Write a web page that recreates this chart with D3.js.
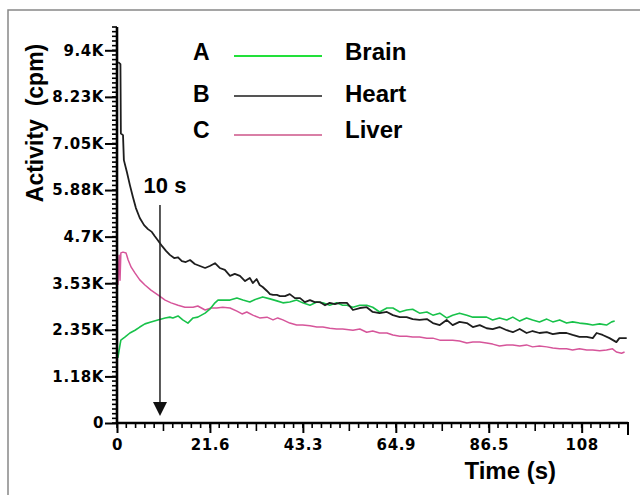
<!DOCTYPE html>
<html>
<head>
<meta charset="utf-8">
<script src="https://cdn.jsdelivr.net/npm/d3@7"></script>
<style>
  body { margin: 0; background: #fff; }
  svg { display: block; }
  text { font-family: "Liberation Sans", Arial, sans-serif; font-weight: bold; fill: #000; }
  .tick-label { font-family: "DejaVu Sans", sans-serif; font-size: 15px; letter-spacing: 0.6px; }
</style>
</head>
<body>
<svg id="chart" width="640" height="495"></svg>
<script>
// time (s), activity (cpm)
var heart = [[0.3,9100],[0.8,9050],[0.9,7300],[1.4,7260],[1.6,6630],[2.3,6330],[3.0,6000],[3.7,5700],[4.4,5420],
  [5.3,5170],[6.3,4990],[7.2,4890],[8.1,4820],[8.8,4710],[9.5,4610],[10.5,4460],[11.4,4340],[12.3,4240],[13.3,4160],
  [14.2,4180],[15.1,4080],[16.0,4060],[17.0,4110],[18.1,4010],[19.3,3960],[20.5,3910],[21.6,3960],[22.8,4030],
  [23.9,3910],[25.1,3860],[26.3,3710],[27.4,3760],[28.6,3710],[29.8,3580],[30.9,3660],[31.6,3530],[32.5,3630],
  [33.2,3480],[33.9,3430],[34.9,3330],[35.6,3250],[36.3,3230],[37.2,3230],[37.9,3200],[39.1,3200],[40.2,3250],
  [41.4,3150],[42.6,3150],[43.7,3050],[44.9,3100],[46.0,3050],[47.2,3050],[48.4,2970],[49.5,3030],[50.7,3000],
  [51.8,3030],[53.5,3030],[54.9,2850],[56.5,2900],[58.1,2920],[59.5,2800],[61.1,2770],[62.8,2800],[64.2,2720],
  [65.8,2670],[67.4,2670],[68.8,2620],[70.4,2600],[72.1,2620],[73.5,2520],[75.1,2470],[76.7,2600],[78.1,2470],
  [79.7,2550],[81.4,2520],[82.8,2420],[84.4,2470],[86.0,2390],[87.4,2370],[89.0,2420],[90.7,2340],[92.1,2290],
  [93.7,2370],[95.3,2270],[96.7,2320],[98.3,2270],[100.0,2290],[101.4,2240],[103.0,2270],[104.6,2270],[106.0,2220],
  [107.6,2170],[109.3,2170],[110.7,2140],[111.6,2270],[113.0,2220],[114.6,2140],[116.2,2040],[116.9,2140],[118.6,2140]];

var brain = [[0.2,1640],[0.7,1970],[0.9,2090],[1.9,2170],[3.0,2270],[4.2,2340],[5.3,2420],[6.5,2500],[7.9,2550],
  [9.5,2600],[11.2,2650],[12.3,2670],[13.0,2650],[14.2,2700],[15.3,2600],[16.5,2520],[17.7,2650],[18.8,2670],
  [20.5,2770],[21.6,2870],[22.8,3030],[23.5,3100],[24.6,3100],[26.3,3100],[27.9,3150],[29.3,3100],[30.9,3050],
  [32.5,3130],[33.9,3180],[35.6,3130],[37.2,3080],[38.6,3030],[40.2,3050],[41.8,3100],[43.2,3030],[44.9,2970],
  [46.5,3050],[47.9,3030],[49.5,2970],[51.1,3030],[52.5,2970],[53.5,2970],[54.9,2920],[56.5,2970],[58.1,2970],
  [59.5,2920],[61.1,2800],[62.8,2900],[64.2,2900],[65.8,2800],[67.4,2850],[68.8,2870],[70.4,2770],[72.1,2800],
  [73.5,2720],[75.1,2770],[76.7,2650],[78.1,2720],[79.7,2770],[81.4,2720],[82.8,2670],[84.4,2670],[86.0,2670],
  [87.4,2600],[89.0,2650],[90.7,2600],[92.1,2670],[93.7,2570],[95.3,2650],[96.7,2600],[98.3,2550],[100.0,2620],
  [101.4,2550],[103.0,2600],[104.6,2520],[106.0,2550],[107.6,2520],[109.3,2500],[110.7,2470],[112.3,2500],
  [113.9,2470],[115.1,2550],[115.8,2570]];

var liver = [[0.2,3480],[0.5,4230],[0.7,3600],[0.9,4290],[1.4,4310],[2.1,4290],[2.6,4110],[3.3,3930],[4.2,3780],
  [5.3,3610],[6.5,3480],[7.9,3350],[9.5,3230],[11.2,3100],[12.6,3030],[14.2,2970],[15.8,2920],[17.7,2920],
  [18.8,2950],[20.5,2850],[21.9,2900],[23.2,2900],[24.6,2920],[26.3,2900],[27.9,2820],[29.1,2750],[30.2,2800],
  [31.6,2720],[33.2,2650],[34.9,2670],[36.3,2600],[37.4,2650],[38.6,2600],[40.2,2520],[41.8,2470],[43.2,2470],
  [44.9,2450],[46.5,2420],[47.9,2420],[49.5,2390],[51.1,2370],[52.5,2370],[54.9,2340],[56.5,2370],[58.1,2290],
  [59.5,2320],[61.1,2270],[62.8,2270],[64.2,2220],[65.8,2190],[67.4,2190],[68.8,2170],[70.4,2170],[72.1,2140],
  [73.5,2140],[75.1,2090],[76.7,2090],[78.1,2090],[79.7,2070],[81.4,2020],[82.8,2040],[84.4,2040],[86.0,2020],
  [87.4,1990],[89.0,1940],[90.7,1970],[92.1,1970],[93.7,1940],[95.3,1970],[96.7,1920],[98.3,1940],[100.0,1920],
  [101.4,1890],[103.0,1870],[104.6,1870],[106.0,1840],[107.6,1870],[109.3,1840],[110.7,1840],[112.3,1820],
  [113.9,1840],[115.3,1870],[116.2,1790],[117.4,1760],[118.1,1790]];

var yTicks = [0, 1175, 2350, 3525, 4700, 5875, 7050, 8225, 9400];
var yTickLabels = ["0", "1.18K", "2.35K", "3.53K", "4.7K", "5.88K", "7.05K", "8.23K", "9.4K"];
var xTicks = [0, 21.62, 43.25, 64.87, 86.5, 108.12];
var xTickLabels = ["0", "21.6", "43.3", "64.9", "86.5", "108"];
var legendKeys = ["A", "B", "C"];
var legendNames = ["Brain", "Heart", "Liver"];
var markerTime = 10;

var xMax = 118.9, yMax = 9987.5;
var svg = d3.select("#chart");

// frame (only top/left visible in the figure)
svg.append("path").attr("d", "M8,495V10H640").attr("fill", "none").attr("stroke", "#888").attr("stroke-width", 1.5);

var x = d3.scaleLinear().domain([0, xMax]).range([117, 628]);
var y = d3.scaleLinear().domain([0, yMax]).range([423, 27]);

var line = d3.line().x(d => x(d[0])).y(d => y(d[1]));

var series = [
  {data: liver, color: "#d6559a", w: 1.5},
  {data: brain, color: "#18c24a", w: 1.6},
  {data: heart, color: "#1e1e1e", w: 1.8}
];
series.forEach(s => {
  svg.append("path").datum(s.data)
    .attr("fill", "none").attr("stroke", s.color).attr("stroke-width", s.w)
    .attr("stroke-linejoin", "round").attr("d", line);
});

// y axis minor ticks
var yMinor = d3.range(0, yMax + 1, 117.5);
svg.append("g").selectAll("line").data(yMinor).join("line")
  .attr("x1", 112).attr("x2", 117).attr("y1", d => y(d)).attr("y2", d => y(d))
  .attr("stroke", "#000").attr("stroke-width", 1.6);

var yAxis = d3.axisLeft(y).tickValues(yTicks).tickSize(12).tickPadding(1)
  .tickFormat((d, i) => yTickLabels[i]);
var gy = svg.append("g").attr("transform", "translate(117,0)").call(yAxis);
gy.select(".domain").remove();
gy.selectAll(".tick line").attr("stroke", "#000").attr("stroke-width", 2);
gy.selectAll(".tick text").attr("class", "tick-label").attr("fill", "#000").attr("font-size", null).attr("font-family", null);
svg.append("line").attr("x1", 117).attr("x2", 117).attr("y1", y(yMax)).attr("y2", 424)
  .attr("stroke", "#000").attr("stroke-width", 2.6);

// x axis minor ticks
var xMinor = d3.range(0, 56).map(i => i * 2.1623);
svg.append("g").selectAll("line").data(xMinor).join("line")
  .attr("x1", d => x(d)).attr("x2", d => x(d)).attr("y1", 423)
  .attr("y2", (d, i) => 423 + (i % 10 === 5 ? 8 : 5))
  .attr("stroke", "#000").attr("stroke-width", 1.6);

var xAxis = d3.axisBottom(x).tickValues(xTicks).tickSize(10).tickPadding(6)
  .tickFormat((d, i) => xTickLabels[i]);
var gx = svg.append("g").attr("transform", "translate(0,423)").call(xAxis);
gx.select(".domain").remove();
gx.selectAll(".tick line").attr("stroke", "#000").attr("stroke-width", 2);
gx.selectAll(".tick text").attr("class", "tick-label").attr("fill", "#000").attr("font-size", null).attr("font-family", null);
svg.append("line").attr("x1", 116).attr("x2", x(xMax)).attr("y1", 423).attr("y2", 423)
  .attr("stroke", "#000").attr("stroke-width", 2.6);
svg.append("line").attr("x1", x(xMax)).attr("x2", x(xMax)).attr("y1", 422).attr("y2", 435)
  .attr("stroke", "#000").attr("stroke-width", 2);

// axis titles
svg.append("text").attr("x", 556).attr("y", 479).attr("text-anchor", "end")
  .attr("font-size", 24).text("Time (s)");
svg.append("text").attr("transform", "translate(43,123) rotate(-90)")
  .attr("text-anchor", "middle").attr("font-size", 23).attr("xml:space", "preserve")
  .style("white-space", "pre").text("Activity  (cpm)");

// 10 s marker
var mx = x(markerTime);
svg.append("line").attr("x1", mx).attr("x2", mx).attr("y1", 205).attr("y2", 404)
  .attr("stroke", "#222").attr("stroke-width", 1.5);
svg.append("path").attr("d", `M${mx - 7},402L${mx + 7},402L${mx},416Z`).attr("fill", "#111");
svg.append("text").attr("x", mx + 5).attr("y", 193).attr("text-anchor", "middle")
  .attr("font-size", 22).text("10 s");

// legend
var legendColors = ["#22e03a", "#555555", "#d97fa6"];
var legendY = [56, 96, 135];
var letterY = [60, 102, 138];
legendKeys.forEach((k, i) => {
  svg.append("text").attr("x", 193).attr("y", letterY[i]).attr("font-size", 23).text(k);
  svg.append("line").attr("x1", 234).attr("x2", 322).attr("y1", legendY[i]).attr("y2", legendY[i])
    .attr("stroke", legendColors[i]).attr("stroke-width", 2);
  svg.append("text").attr("x", 345).attr("y", letterY[i]).attr("font-size", 24).text(legendNames[i]);
});
</script>
</body>
</html>
